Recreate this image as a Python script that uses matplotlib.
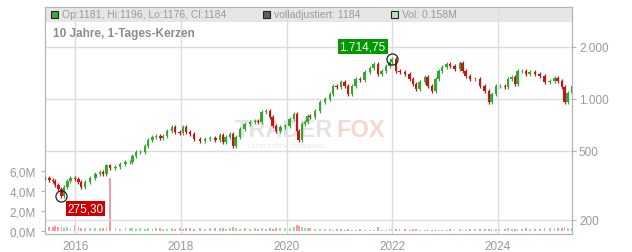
import numpy as np
import matplotlib
matplotlib.use("Agg")
import matplotlib.pyplot as plt
from matplotlib.patches import Rectangle

plt.rcParams['font.family'] = ['Liberation Sans', 'DejaVu Sans']

# decimal year of each sampled session
years = [2015.43, 2015.51, 2015.58, 2015.62, 2015.68, 2015.74, 2015.79, 2015.85, 2015.91, 2016.00,
         2016.06, 2016.11, 2016.19, 2016.28, 2016.38, 2016.47, 2016.53, 2016.59, 2016.66, 2016.76,
         2016.85, 2016.95, 2017.04, 2017.08, 2017.15, 2017.23, 2017.32, 2017.38, 2017.46, 2017.53,
         2017.61, 2017.66, 2017.74, 2017.83, 2017.89,
         2017.98, 2018.04, 2018.10, 2018.17, 2018.25, 2018.36, 2018.46, 2018.55, 2018.65, 2018.74,
         2018.80, 2018.85, 2018.93, 2018.99, 2019.04, 2019.12, 2019.21, 2019.31, 2019.40, 2019.46,
         2019.53, 2019.61, 2019.69, 2019.74, 2019.80, 2019.88, 2019.97, 2020.06, 2020.14, 2020.20,
         2020.23, 2020.29, 2020.35, 2020.40,
         2020.44, 2020.54, 2020.63, 2020.73, 2020.82, 2020.88, 2020.95, 2021.03, 2021.10, 2021.16,
         2021.24, 2021.31, 2021.39, 2021.48, 2021.58, 2021.65, 2021.73, 2021.80, 2021.88, 2021.95,
         2021.99, 2022.07, 2022.14, 2022.24, 2022.33, 2022.39, 2022.45, 2022.52, 2022.62, 2022.67,
         2022.75, 2022.82,
         2022.88, 2022.94, 2023.03, 2023.09, 2023.18, 2023.28, 2023.33, 2023.39, 2023.47, 2023.56,
         2023.66, 2023.75, 2023.83, 2023.88, 2023.96, 2024.03, 2024.13, 2024.19, 2024.26, 2024.32,
         2024.37, 2024.45, 2024.53, 2024.60, 2024.70, 2024.79, 2024.88, 2024.98, 2025.07, 2025.13,
         2025.21, 2025.26, 2025.32, 2025.40]

closes = [349, 340, 336, 318, 301, 275.3, 309, 335, 349, 344,
          331, 309, 331, 349, 368, 378, 368, 412, 398, 405,
          420, 432, 432, 468, 493, 493, 534, 579, 603, 611,
          595, 611, 653, 688, 644,
          636, 688, 644, 627, 587, 571, 587, 595, 579, 619,
          564, 603, 627, 534, 603, 671, 717, 736, 746, 736,
          841, 852, 787, 698, 653, 688, 698, 766, 819, 653,
          579, 717, 736, 800,
          787, 852, 961, 1000, 1069, 1189, 1174, 1254, 1189, 1069,
          1189, 1305, 1288, 1433, 1512, 1595, 1396, 1453, 1553, 1637,
          1714.75, 1453, 1433, 1396, 1305, 1221, 1143, 1254, 1341, 1189,
          1112, 1305,
          1453, 1532, 1600, 1553, 1492, 1616, 1453, 1359, 1305, 1305,
          1189, 1112, 960, 1069, 1189, 1189, 1174, 1305, 1341, 1221,
          1453, 1453, 1396, 1433, 1396, 1359, 1254, 1271, 1323, 1271,
          1174, 960, 1083, 1184]

# volume in millions
volumes = [0.5, 0.45, 0.4, 0.5, 0.45, 0.4, 0.35, 0.45, 0.35, 0.6,
           0.4, 0.35, 0.3, 0.35, 0.3, 0.35, 0.3, 0.3, 5.3, 0.3,
           0.25, 0.3, 0.3, 0.35, 0.25, 0.3, 0.25, 0.3, 0.25, 0.3,
           0.3, 0.25, 0.25, 0.3, 0.25,
           0.3, 0.25, 0.3, 0.3, 0.25, 0.3, 0.25, 0.3, 0.35, 0.3,
           0.3, 0.25, 0.35, 0.4, 0.3, 0.25, 0.3, 0.25, 0.3, 0.25,
           0.3, 0.25, 0.3, 0.25, 0.3, 0.35, 0.3, 0.35, 0.4, 0.6,
           0.5, 0.4, 0.35, 0.3,
           0.3, 0.25, 0.25, 0.2, 0.2, 0.15, 0.2, 0.2, 0.15, 0.2,
           0.15, 0.15, 0.2, 0.15, 0.15, 0.15, 0.4, 0.15, 0.15, 0.2,
           0.2, 0.2, 0.2, 0.2, 0.15, 0.2, 0.2, 0.15, 0.15, 0.2,
           0.15, 0.2,
           0.15, 0.15, 0.15, 0.2, 0.15, 0.2, 0.15, 0.15, 0.2, 0.2,
           0.2, 0.2, 0.25, 0.25, 0.2, 0.2, 0.25, 0.3, 0.2, 0.25,
           0.25, 0.2, 0.3, 0.25, 0.25, 0.2, 0.3, 0.35, 0.3, 0.3,
           0.35, 0.4, 0.35, 0.3]

year_ticks = [2016, 2018, 2020, 2022, 2024]
price_ticks = [200, 500, 1000, 2000]
price_labels = ['200', '500', '1.000', '2.000']
vol_ticks = [0, 2, 4, 6]
vol_labels = ['0,0M', '2,0M', '4,0M', '6,0M']

x = np.array(years)
c = np.array(closes)
o = np.concatenate([[c[0]], c[:-1]])
up = c >= o
green = '#34a834'
red = '#c41616'
grey_txt = '#9a9a9a'

fig = plt.figure(figsize=(6.32, 2.53), dpi=100)
ax = fig.add_axes([45 / 632, 18 / 253, 527 / 632, 227 / 253])
ax2 = ax.twinx()

# volume on the left axis
vcol = np.where(up, '#9fd89f', '#f09ca2')
ax.bar(x, volumes, width=0.03, color=vcol, zorder=2)
ax.set_ylim(-0.3, 22.4)
ax.set_yticks(vol_ticks)
ax.set_yticklabels(vol_labels)
ax.set_xlim(2015.43, 2025.40)
ax.set_xticks(year_ticks)

# price candles on the right log axis
ax2.set_yscale('log')
ax2.set_ylim(165, 3410)
ax2.set_yticks(price_ticks)
ax2.set_yticklabels(price_labels)
ax2.minorticks_off()
for p in price_ticks:
    ax2.axhline(p, color='#dcdcdc', lw=1, zorder=1)
for yr in year_ticks:
    ax2.axvline(yr, color='#dcdcdc', lw=1, zorder=1)

lo = np.minimum(o, c)
hi = np.maximum(o, c)
ccol = np.where(up, green, red)
ax2.vlines(x, lo * 0.975, hi * 1.025, colors=ccol, lw=0.9, zorder=3)
ax2.bar(x, hi - lo, bottom=lo, width=0.05, color=ccol, zorder=3)

# header band
ax2.add_patch(Rectangle((0, 1 - 15 / 227), 1, 15 / 227, transform=ax2.transAxes,
                        facecolor='#e6e6e6', edgecolor='none', zorder=0.5))

# watermark
ax2.text(0.36, 0.46, 'TRADER', transform=ax2.transAxes, fontsize=17, fontweight='bold',
         color='#e4e4e4', ha='left', va='center', zorder=1.5)
ax2.text(0.553, 0.46, 'FOX', transform=ax2.transAxes, fontsize=17, fontweight='bold',
         color='#f9d4d4', ha='left', va='center', zorder=1.5)
ax2.text(0.385, 0.39, 'LATIN STOCK SCREENING', transform=ax2.transAxes, fontsize=4.5,
         color='#e4e4e4', ha='left', va='center', zorder=1.5)

# high / low markers
i_hi = int(np.argmax(c))
i_lo = int(np.argmin(c))
for i in (i_hi, i_lo):
    ax2.plot(x[i], c[i], 'o', mfc='none', mec='#222222', ms=8, mew=0.9, zorder=5)
ax2.annotate('1.714,75', (x[i_hi], c[i_hi]), xytext=(-6, 12), textcoords='offset pixels',
             ha='right', va='center', color='white', fontsize=8.5,
             bbox=dict(boxstyle='square,pad=0.15', fc='#009a00', ec='none'), zorder=6)
ax2.annotate('275,30', (x[i_lo], c[i_lo]), xytext=(6, -13), textcoords='offset pixels',
             ha='left', va='center', color='white', fontsize=8.5,
             bbox=dict(boxstyle='square,pad=0.15', fc='#cc0000', ec='none'), zorder=6)

for a in (ax, ax2):
    for s in a.spines.values():
        s.set_color('#b4b4b4')
    a.tick_params(colors='#b4b4b4', labelcolor=grey_txt, labelsize=8.5, length=3)
ax.tick_params(axis='x', length=0, pad=4)
ax2.tick_params(axis='y', pad=2)

# header legend
fy = 1 - 15.5 / 253
def swatch(px, fc):
    fig.patches.append(Rectangle((px / 632, fy - 3.5 / 253), 7 / 632, 7 / 253,
                                 transform=fig.transFigure, facecolor=fc,
                                 edgecolor='#222222', lw=0.8))
swatch(51, '#3aa63a')
fig.text(62 / 632, fy, 'Op:1181, Hi:1196, Lo:1176, Cl:1184', fontsize=7.5, color=grey_txt, va='center')
swatch(263, '#606060')
fig.text(274 / 632, fy, 'volladjustiert: 1184', fontsize=7.5, color=grey_txt, va='center')
swatch(391, '#b8e2b8')
fig.text(402 / 632, fy, 'Vol: 0.158M', fontsize=7.5, color=grey_txt, va='center')
fig.text(53 / 632, 1 - 34 / 253, '10 Jahre, 1-Tages-Kerzen', fontsize=8.5, fontweight='bold',
         color='#8c8c8c', va='center')

fig.savefig('out.png', dpi=100)
